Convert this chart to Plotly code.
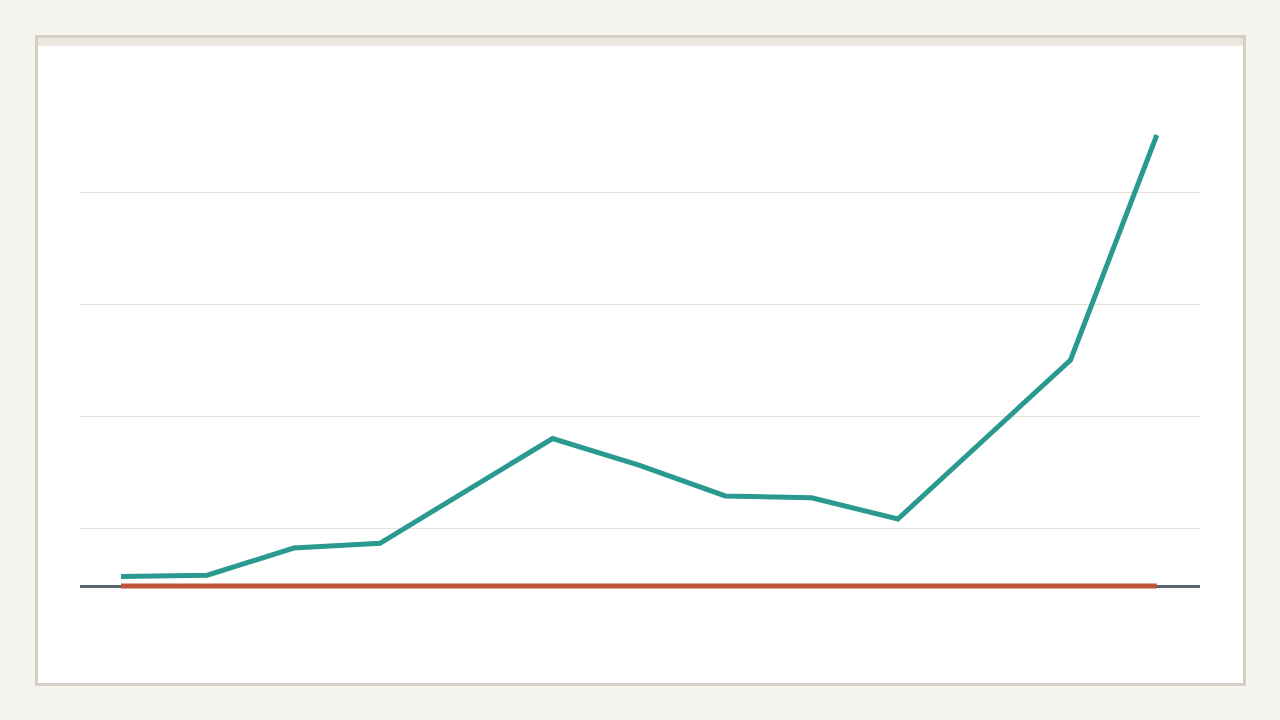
import plotly.graph_objects as go

# Data (units: 100 = one gridline step)
x_index = list(range(13))
teal_values = [8.5, 9.6, 33.9, 38.1, 85.0, 131.7, 108.0, 80.4, 78.8, 59.8, 130.8, 201.8, 402.7]
red_values = [0] * 13
grid_values = [51.0, 151.0, 251.0, 351.0]

# Layout geometry
L, R, T, B = 80, 80, 110, 70
W, H = 1280, 720
pw, ph = W - L - R, H - T - B


def px_x(p):
    return (p - L) / pw


def px_y(p):
    return (H - B - p) / ph


fig = go.Figure()
fig.add_trace(go.Scatter(x=x_index, y=red_values, mode="lines",
                         line=dict(color="#c0553b", width=5), hoverinfo="skip"))
fig.add_trace(go.Scatter(x=x_index, y=teal_values, mode="lines",
                         line=dict(color="#2a9a90", width=5), hoverinfo="skip"))

shapes = [
    dict(type="rect", xref="paper", yref="paper", layer="below",
         x0=px_x(36.5), x1=px_x(1244.5), y0=px_y(684.5), y1=px_y(36.5),
         fillcolor="#ffffff", line=dict(color="#d3cfc4", width=3)),
    dict(type="rect", xref="paper", yref="paper", layer="below",
         x0=px_x(38), x1=px_x(1243), y0=px_y(46), y1=px_y(38),
         fillcolor="#ebe7de", line=dict(width=0)),
]

fig.update_layout(
    width=W, height=H,
    margin=dict(l=L, r=R, t=T, b=B, pad=0),
    paper_bgcolor="#f5f4ef",
    plot_bgcolor="rgba(0,0,0,0)",
    showlegend=False,
    shapes=shapes,
    xaxis=dict(range=[-0.475, 12.5], showgrid=False, zeroline=False,
               showticklabels=False, showline=False, ticks=""),
    yaxis=dict(range=[-57.14, 425], tickvals=grid_values, showticklabels=False,
               showgrid=True, gridcolor="#e3e1d2", gridwidth=1,
               zeroline=True, zerolinecolor="#5a6472", zerolinewidth=3,
               showline=False, ticks=""),
)

fig.write_html(
    "out.html",
    config={"displayModeBar": False},
    post_script="document.body.style.margin='0';document.body.style.background='#f5f4ef';",
)
